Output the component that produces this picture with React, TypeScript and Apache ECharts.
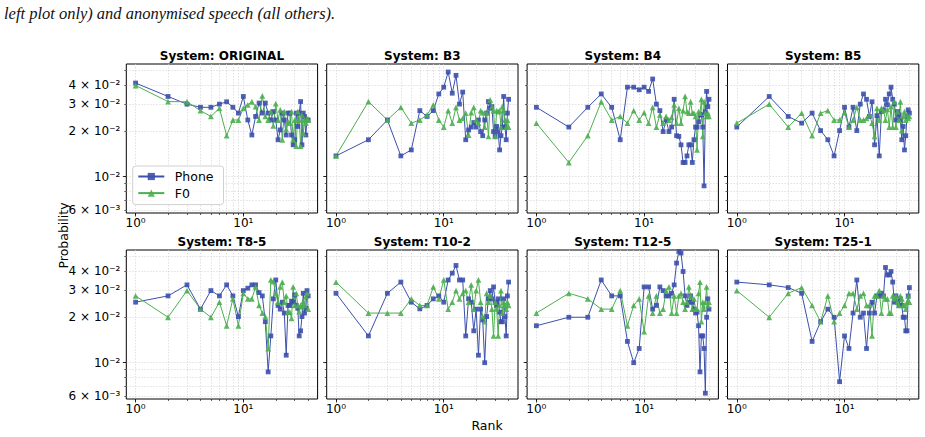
import React, { useEffect, useRef } from 'react';
import * as echarts from 'echarts';

// Panel titles, row-major (4 columns x 2 rows)
const SYSTEMS = ['ORIGINAL', 'B3', 'B4', 'B5', 'T8-5', 'T10-2', 'T12-5', 'T25-1'];

// Speaker rank (x values shared by every series)
const RANKS = [
  1, 2, 3, 4, 5, 6, 7, 8, 9, 10, 11, 12, 13, 14, 15, 16, 17, 18, 19, 20,
  21, 22, 23, 24, 25, 26, 27, 28, 29, 30, 31, 32, 33, 34, 35, 36, 37, 38, 39, 40,
];

// Probability per rank, phone-based attacker
const PHONE_ORIGINAL = [
  0.0413, 0.0337, 0.03, 0.0286, 0.0286, 0.03, 0.0311, 0.0286, 0.0262, 0.0337,
  0.0236, 0.0188, 0.0249, 0.0305, 0.0262, 0.0305, 0.0262, 0.0236, 0.0268, 0.0236,
  0.0175, 0.0203, 0.0262, 0.0236, 0.0188, 0.0262, 0.0262, 0.0188, 0.0162, 0.0175,
  0.0262, 0.0214, 0.0262, 0.0312, 0.0162, 0.0262, 0.0249, 0.0188, 0.0236, 0.0236,
];
const PHONE_B3 = [
  0.0137, 0.0175, 0.0236, 0.0137, 0.015, 0.0272, 0.0249, 0.0272, 0.035, 0.0388,
  0.0488, 0.0354, 0.0464, 0.03, 0.036, 0.0175, 0.0203, 0.0212, 0.0227, 0.0212,
  0.0236, 0.0198, 0.0186, 0.0236, 0.0262, 0.0312, 0.0282, 0.0289, 0.0198, 0.0184,
  0.0214, 0.0198, 0.015, 0.0186, 0.0212, 0.0337, 0.0212, 0.0175, 0.0262, 0.0323,
];
const PHONE_B4 = [
  0.0286, 0.0212, 0.0286, 0.035, 0.0286, 0.0175, 0.0388, 0.0388, 0.0373, 0.0388,
  0.0364, 0.0439, 0.03, 0.0272, 0.0198, 0.0236, 0.0198, 0.0212, 0.0323, 0.0186,
  0.0184, 0.0162, 0.0124, 0.0124, 0.0137, 0.0162, 0.0162, 0.0124, 0.0175, 0.0212,
  0.0212, 0.023, 0.0255, 0.0255, 0.0212, 0.0087, 0.0268, 0.0364, 0.0289, 0.0323,
];
const PHONE_B5 = [
  0.0212, 0.0337, 0.0249, 0.0225, 0.0262, 0.0201, 0.0175, 0.0137, 0.0201, 0.0286,
  0.0212, 0.0286, 0.0201, 0.03, 0.035, 0.0323, 0.0249, 0.0311, 0.0162, 0.0252,
  0.0137, 0.0268, 0.0275, 0.0323, 0.0297, 0.035, 0.0388, 0.0323, 0.03, 0.0236,
  0.0268, 0.0255, 0.0236, 0.0175, 0.0214, 0.015, 0.0186, 0.0249, 0.0275, 0.0262,
];
const PHONE_T8_5 = [
  0.025, 0.0275, 0.0325, 0.0225, 0.0298, 0.0275, 0.0325, 0.0275, 0.0201, 0.0298,
  0.0309, 0.0325, 0.0325, 0.0289, 0.0275, 0.0186, 0.0087, 0.015, 0.0263, 0.035,
  0.0238, 0.0225, 0.025, 0.0212, 0.0112, 0.0238, 0.0238, 0.0254, 0.025, 0.0279,
  0.0238, 0.0228, 0.015, 0.0162, 0.0201, 0.0286, 0.0212, 0.0228, 0.0298, 0.0275,
];
const PHONE_T10_2 = [
  0.0286, 0.015, 0.0286, 0.0339, 0.025, 0.0226, 0.0238, 0.0263, 0.0275, 0.025,
  0.035, 0.0388, 0.0436, 0.035, 0.035, 0.015, 0.0263, 0.025, 0.0162, 0.0225,
  0.0112, 0.0225, 0.0191, 0.01, 0.0201, 0.0263, 0.0298, 0.0263, 0.0315, 0.025,
  0.0238, 0.0263, 0.0215, 0.0186, 0.0186, 0.0263, 0.0201, 0.015, 0.0275, 0.0339,
];
const PHONE_T12_5 = [
  0.0175, 0.0199, 0.0199, 0.035, 0.0275, 0.0275, 0.0138, 0.01, 0.0124, 0.0315,
  0.0315, 0.0225, 0.0238, 0.0315, 0.0298, 0.0275, 0.0275, 0.0286, 0.0325, 0.0452,
  0.0539, 0.0526, 0.0398, 0.0275, 0.0238, 0.025, 0.0275, 0.025, 0.0225, 0.0212,
  0.0215, 0.0175, 0.0087, 0.015, 0.015, 0.0124, 0.0063, 0.0199, 0.0263, 0.0225,
];
const PHONE_T25_1 = [
  0.0339, 0.0325, 0.0312, 0.0286, 0.0138, 0.0186, 0.0225, 0.0199, 0.0075, 0.015,
  0.0124, 0.0212, 0.035, 0.0199, 0.0212, 0.0124, 0.0212, 0.025, 0.0212, 0.0275,
  0.0275, 0.0286, 0.0275, 0.0423, 0.0378, 0.0378, 0.0398, 0.0339, 0.025, 0.0275,
  0.025, 0.0238, 0.0263, 0.0238, 0.0199, 0.0199, 0.0162, 0.0162, 0.0275, 0.0312,
];

// Probability per rank, F0-based attacker
const F0_ORIGINAL = [
  0.0398, 0.0312, 0.0311, 0.0272, 0.0249, 0.0282, 0.0186, 0.0236, 0.0236, 0.0282,
  0.0297, 0.0311, 0.0289, 0.0236, 0.034, 0.0249, 0.0236, 0.0268, 0.0216, 0.0302,
  0.0236, 0.0275, 0.0175, 0.0268, 0.0205, 0.023, 0.0225, 0.0268, 0.0175, 0.0236,
  0.0159, 0.0268, 0.0236, 0.0159, 0.0255, 0.0193, 0.0236, 0.0225, 0.0242, 0.0236,
];
const F0_B3 = [
  0.0137, 0.0312, 0.0236, 0.0286, 0.0225, 0.0236, 0.0255, 0.0297, 0.0236, 0.0212,
  0.0272, 0.0225, 0.0286, 0.0236, 0.0242, 0.0262, 0.0188, 0.0264, 0.0286, 0.0236,
  0.0225, 0.0272, 0.0264, 0.0212, 0.0264, 0.0184, 0.032, 0.0289, 0.0272, 0.0184,
  0.0272, 0.0268, 0.0272, 0.0212, 0.0289, 0.0272, 0.0236, 0.0212, 0.0236, 0.0212,
];
const F0_B4 = [
  0.0225, 0.0124, 0.0186, 0.0311, 0.0236, 0.0249, 0.0225, 0.0272, 0.0236, 0.0264,
  0.0225, 0.0286, 0.0212, 0.0255, 0.0225, 0.0249, 0.0236, 0.0246, 0.0297, 0.0225,
  0.0282, 0.0225, 0.0272, 0.0337, 0.0268, 0.0262, 0.0311, 0.0262, 0.0262, 0.0249,
  0.015, 0.0268, 0.0262, 0.0323, 0.0184, 0.0311, 0.0262, 0.0249, 0.0262, 0.0249,
];
const F0_B5 = [
  0.0225, 0.03, 0.0212, 0.0262, 0.0186, 0.0262, 0.0272, 0.0236, 0.0236, 0.0264,
  0.0212, 0.0236, 0.0286, 0.0236, 0.0236, 0.0242, 0.0255, 0.0225, 0.0184, 0.0282,
  0.0236, 0.0282, 0.0272, 0.0236, 0.0277, 0.0212, 0.0289, 0.0212, 0.0312, 0.0212,
  0.0268, 0.0236, 0.0311, 0.0201, 0.0249, 0.0268, 0.0236, 0.0255, 0.0242, 0.0249,
];
const F0_T8_5 = [
  0.0275, 0.0199, 0.0298, 0.0225, 0.0199, 0.025, 0.0175, 0.0263, 0.0175, 0.0286,
  0.0263, 0.0263, 0.0315, 0.0238, 0.0212, 0.0201, 0.0124, 0.035, 0.0342, 0.0286,
  0.025, 0.0315, 0.0339, 0.025, 0.0275, 0.0215, 0.0215, 0.0196, 0.0315, 0.0238,
  0.0286, 0.0238, 0.0217, 0.0238, 0.0234, 0.0253, 0.0238, 0.0272, 0.0286, 0.0225,
];
const F0_T10_2 = [
  0.0339, 0.0212, 0.0212, 0.0212, 0.0263, 0.0238, 0.0238, 0.0315, 0.0263, 0.035,
  0.0225, 0.025, 0.0298, 0.0263, 0.0286, 0.0298, 0.025, 0.0325, 0.0225, 0.0298,
  0.035, 0.025, 0.0201, 0.0186, 0.0286, 0.025, 0.0275, 0.0225, 0.015, 0.025,
  0.0226, 0.015, 0.0238, 0.0298, 0.0212, 0.025, 0.0238, 0.0225, 0.025, 0.0238,
];
const F0_T12_5 = [
  0.0212, 0.0286, 0.0263, 0.0225, 0.0225, 0.0298, 0.0175, 0.0238, 0.0263, 0.016,
  0.0275, 0.0212, 0.0275, 0.0212, 0.0225, 0.0298, 0.0315, 0.0212, 0.0275, 0.0212,
  0.0275, 0.0286, 0.025, 0.0225, 0.025, 0.0315, 0.0275, 0.0225, 0.0263, 0.0225,
  0.0225, 0.0286, 0.0339, 0.0186, 0.025, 0.0225, 0.025, 0.0315, 0.0238, 0.025,
];
const F0_T25_1 = [
  0.0298, 0.0199, 0.0286, 0.0312, 0.0238, 0.0186, 0.0275, 0.0186, 0.0212, 0.0238,
  0.0286, 0.0286, 0.0225, 0.0275, 0.0286, 0.0238, 0.0238, 0.015, 0.0275, 0.0275,
  0.0298, 0.0212, 0.0275, 0.0263, 0.0263, 0.0212, 0.0212, 0.0275, 0.0263, 0.0275,
  0.025, 0.0238, 0.0275, 0.0263, 0.0238, 0.0238, 0.0225, 0.025, 0.0275, 0.025,
];

const PHONE_SERIES = [
  PHONE_ORIGINAL, PHONE_B3, PHONE_B4, PHONE_B5,
  PHONE_T8_5, PHONE_T10_2, PHONE_T12_5, PHONE_T25_1,
];
const F0_SERIES = [
  F0_ORIGINAL, F0_B3, F0_B4, F0_B5,
  F0_T8_5, F0_T10_2, F0_T12_5, F0_T25_1,
];

// Axis ranges and tick marks (log scale)
const X_MIN = 0.82;
const X_MAX = 48.9;
const Y_MIN = 0.00577;
const Y_MAX = 0.0551;
const X_MAJOR = [1, 10];
const X_MAJOR_LABELS = ['10⁰', '10¹'];
const X_MINOR = [2, 3, 4, 5, 6, 7, 8, 9, 20, 30, 40];
const Y_MAJOR = [0.01];
const Y_MINOR = [0.006, 0.007, 0.008, 0.009, 0.02, 0.03, 0.04, 0.05];
const Y_LABEL_VALUES = [0.006, 0.01, 0.02, 0.03, 0.04];
const Y_LABELS = ['6 × 10⁻³', '10⁻²', '2 × 10⁻²', '3 × 10⁻²', '4 × 10⁻²'];

const CAPTION = 'left plot only) and anonymised speech (all others).';

// Layout
const COL_LEFT = [126.3, 326.7, 527.1, 727.5];
const ROW_TOP = [64, 250];
const PANEL_W = 191.3;
const PANEL_H = 149;

const FONT = '"DejaVu Sans", sans-serif';
const PHONE_COLOR = '#3c50ac';
const F0_COLOR = '#4caf50';
const GRID_LINE = { color: '#d4d4d4', width: 0.7, type: [1.5, 1.5] as number[] };

const lg = Math.log10;

function pickLabel(values: number[], labels: string[], v: number): string {
  for (let k = 0; k < values.length; k++) {
    if (Math.abs(lg(values[k]) - v) < 1e-6) return labels[k];
  }
  return '';
}

function buildOption() {
  const grid: any[] = [];
  const xAxis: any[] = [];
  const yAxis: any[] = [];
  const series: any[] = [];
  const graphic: any[] = [];

  SYSTEMS.forEach((name, i) => {
    const col = i % 4;
    const row = Math.floor(i / 4);
    grid.push({
      left: COL_LEFT[col],
      top: ROW_TOP[row],
      width: PANEL_W,
      height: PANEL_H,
      show: true,
      borderColor: '#000',
      borderWidth: 1,
      backgroundColor: 'rgba(0,0,0,0)',
    });

    const gx = i * 3;
    // data axis (true log scale)
    xAxis.push({
      type: 'log', logBase: 10, gridIndex: i, min: X_MIN, max: X_MAX, show: false,
      position: 'bottom', axisLine: { onZero: false },
    });
    // major ticks + labels, in log10 units
    xAxis.push({
      type: 'value', gridIndex: i, position: 'bottom', min: lg(X_MIN), max: lg(X_MAX),
      axisLine: { show: false, onZero: false },
      axisTick: {
        show: true, customValues: X_MAJOR.map(lg), length: 3.5,
        lineStyle: { color: '#000', width: 0.8 },
      },
      axisLabel: {
        show: true, customValues: X_MAJOR.map(lg), margin: 4,
        formatter: (v: number) => pickLabel(X_MAJOR, X_MAJOR_LABELS, v),
        color: '#000', fontSize: 12, fontFamily: FONT,
      },
      splitLine: { show: false },
    });
    // minor ticks + grid lines
    xAxis.push({
      type: 'value', gridIndex: i, position: 'bottom', min: lg(X_MIN), max: lg(X_MAX),
      axisLine: { show: false, onZero: false },
      axisTick: {
        show: true, customValues: [...X_MAJOR, ...X_MINOR].map(lg), length: 2,
        lineStyle: { color: '#000', width: 0.6 },
      },
      axisLabel: { show: false },
      splitLine: { show: true, lineStyle: GRID_LINE },
    });

    yAxis.push({
      type: 'log', logBase: 10, gridIndex: i, min: Y_MIN, max: Y_MAX, show: false,
      position: 'left', axisLine: { onZero: false },
    });
    yAxis.push({
      type: 'value', gridIndex: i, position: 'left', min: lg(Y_MIN), max: lg(Y_MAX),
      axisLine: { show: false, onZero: false },
      axisTick: {
        show: true, customValues: Y_MAJOR.map(lg), length: 3.5,
        lineStyle: { color: '#000', width: 0.8 },
      },
      axisLabel: {
        show: col === 0, customValues: Y_LABEL_VALUES.map(lg), margin: 6,
        formatter: (v: number) => pickLabel(Y_LABEL_VALUES, Y_LABELS, v),
        color: '#000', fontSize: 12, fontFamily: FONT,
      },
      splitLine: { show: false },
    });
    yAxis.push({
      type: 'value', gridIndex: i, position: 'left', min: lg(Y_MIN), max: lg(Y_MAX),
      axisLine: { show: false, onZero: false },
      axisTick: {
        show: true, customValues: [...Y_MAJOR, ...Y_MINOR].map(lg), length: 2,
        lineStyle: { color: '#000', width: 0.6 },
      },
      axisLabel: { show: false },
      splitLine: { show: true, lineStyle: GRID_LINE },
    });

    series.push({
      type: 'line', name: 'Phone', xAxisIndex: gx, yAxisIndex: gx,
      data: RANKS.map((r, k) => [r, PHONE_SERIES[i][k]]),
      symbol: 'rect', symbolSize: 4.8, showAllSymbol: true,
      lineStyle: { color: PHONE_COLOR, width: 1 },
      itemStyle: { color: PHONE_COLOR, opacity: 0.9 },
      z: 3,
    });
    series.push({
      type: 'line', name: 'F0', xAxisIndex: gx, yAxisIndex: gx,
      data: RANKS.map((r, k) => [r, F0_SERIES[i][k]]),
      symbol: 'triangle', symbolSize: 5.8, showAllSymbol: true,
      lineStyle: { color: F0_COLOR, width: 1 },
      itemStyle: { color: F0_COLOR, opacity: 0.9 },
      z: 3,
    });

    graphic.push({
      type: 'text',
      x: COL_LEFT[col] + PANEL_W / 2,
      y: ROW_TOP[row] - 8.5,
      style: {
        text: `System: ${name}`, align: 'center', verticalAlign: 'middle',
        fontFamily: FONT, fontWeight: 'bold', fontSize: 12, fill: '#000',
      },
    });
  });

  graphic.push({
    type: 'text', x: 63, y: 235.5, rotation: Math.PI / 2,
    style: {
      text: 'Probability', align: 'center', verticalAlign: 'middle',
      fontFamily: FONT, fontSize: 12.5, fill: '#000',
    },
  });
  graphic.push({
    type: 'text', x: 487, y: 425.5,
    style: {
      text: 'Rank', align: 'center', verticalAlign: 'middle',
      fontFamily: FONT, fontSize: 12.5, fill: '#000',
    },
  });
  graphic.push({
    type: 'text', x: 4, y: 14, scaleX: 1.03,
    style: {
      text: CAPTION, align: 'left', verticalAlign: 'middle',
      fontFamily: '"Liberation Serif", "DejaVu Serif", serif', fontStyle: 'italic',
      fontSize: 16, fill: '#111',
    },
  });

  return {
    animation: false,
    backgroundColor: '#fff',
    grid,
    xAxis,
    yAxis,
    series,
    graphic,
    legend: {
      data: ['Phone', 'F0'],
      orient: 'vertical',
      left: 132.7,
      top: 166,
      itemWidth: 26,
      itemHeight: 9,
      itemGap: 3.6,
      padding: [4, 10, 5, 4.6],
      borderColor: '#d0d0d0',
      borderWidth: 1,
      borderRadius: 3,
      backgroundColor: 'rgba(255,255,255,0.8)',
      textStyle: { fontFamily: FONT, fontSize: 12.5, color: '#000', padding: [0, 0, 0, 5.5] },
      selectedMode: false,
    },
  };
}

export default function App() {
  const ref = useRef<HTMLDivElement | null>(null);
  useEffect(() => {
    if (!ref.current) return;
    const chart = echarts.init(ref.current, undefined, { renderer: 'svg' });
    chart.setOption(buildOption() as any);
    return () => chart.dispose();
  }, []);
  return (
    <div
      ref={ref}
      style={{ position: 'fixed', left: 0, top: 0, width: 925, height: 437 }}
    />
  );
}
